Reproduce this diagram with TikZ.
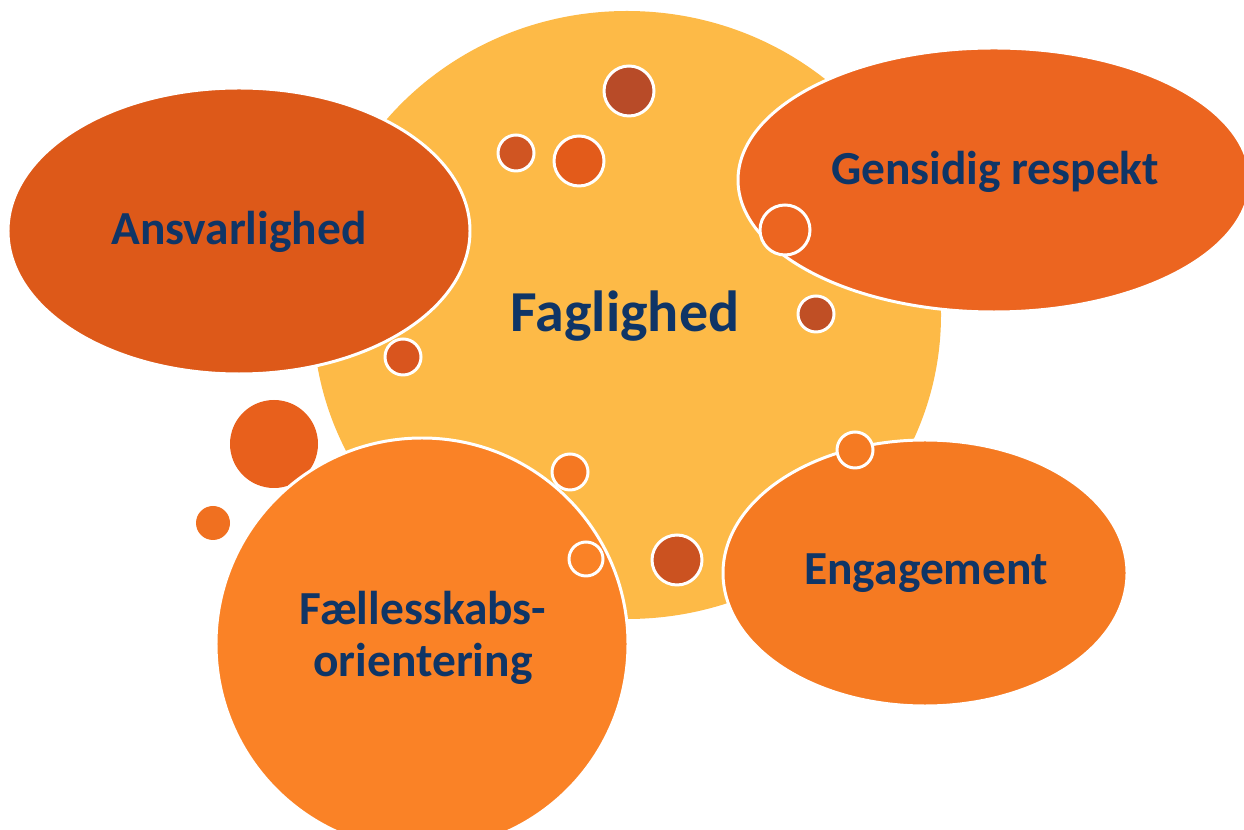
\documentclass[tikz,border=0pt]{standalone}
\usepackage{fontspec}
\setmainfont{Carlito}
\usetikzlibrary{shapes.geometric}
\definecolor{yel}{HTML}{FDBA47}
\definecolor{ansv}{HTML}{DD5919}
\definecolor{gens}{HTML}{EC6520}
\definecolor{enga}{HTML}{F57A22}
\definecolor{fael}{HTML}{FA8226}
\definecolor{navy}{HTML}{0F3566}
\tikzset{
  wb/.style={draw=white, line width=1.7pt},
  lbl/.style={font=\bfseries\fontsize{27}{30}\selectfont, text=navy, align=center},
  dot/.style={circle, wb, inner sep=0pt},
}
\begin{document}
\begin{tikzpicture}[x=0.02cm,y=-0.02cm]
\useasboundingbox (0,0) rectangle (1244,830);
\clip (0,0) rectangle (1244,830);
% central circle
\node[ellipse, fill=yel, minimum width=628*0.02cm, minimum height=608*0.02cm, inner sep=0pt] (fag) at (627,315) {};
\node[lbl, font=\bfseries\fontsize{33}{36}\selectfont] (fagt) at (625,316) {Faglighed};
% ellipses
\node[ellipse, fill=ansv, wb, minimum width=462*0.02cm, minimum height=286*0.02cm, inner sep=0pt] (ans) at (239,231) {};
\node[lbl] at (239,232) {Ansvarlighed};
\node[ellipse, fill=gens, wb, minimum width=512*0.02cm, minimum height=264*0.02cm, inner sep=0pt] (gen) at (994,180) {};
\node[lbl] at (995,172) {Gensidig respekt};
% small circles on yellow
\node[dot, fill={rgb,255:red,184;green,75;blue,40}, minimum size=50*0.02cm] (c1) at (629,91) {};
\node[dot, fill={rgb,255:red,208;green,85;blue,34}, minimum size=36*0.02cm] (c2) at (516,153) {};
\node[dot, fill={rgb,255:red,227;green,91;blue,26}, minimum size=50*0.02cm] (c3) at (579,161) {};
\node[dot, fill=gens, minimum size=50*0.02cm] (c4) at (785,230) {};
\node[dot, fill={rgb,255:red,192;green,79;blue,37}, minimum size=36*0.02cm] (c5) at (816,314) {};
\node[dot, fill={rgb,255:red,217;green,85;blue,30}, minimum size=36*0.02cm] (c6) at (403,357) {};
\node[dot, fill={rgb,255:red,203;green,82;blue,32}, minimum size=50*0.02cm] (c7) at (677,560) {};
% outside circles
\node[circle, fill={rgb,255:red,232;green,96;blue,28}, minimum size=88*0.02cm, inner sep=0pt] (c8) at (274,444) {};
\node[circle, fill={rgb,255:red,240;green,112;blue,32}, minimum size=34*0.02cm, inner sep=0pt] (c9) at (213,523) {};
% engagement
\node[ellipse, fill=enga, wb, minimum width=404*0.02cm, minimum height=266*0.02cm, inner sep=0pt] (eng) at (925,573) {};
\node[lbl] at (926,573) {Engagement};
\node[dot, fill=enga, minimum size=36*0.02cm] (c10) at (855,450) {};
% faellesskab
\node[circle, fill=fael, wb, minimum size=412*0.02cm, inner sep=0pt] (fae) at (422,644) {};
\node[lbl] at (423,638) {Fællesskabs-\\orientering};
\node[dot, fill={rgb,255:red,245;green,120;blue,34}, minimum size=36*0.02cm] (c11) at (570,472) {};
\node[dot, fill=fael, minimum size=34*0.02cm] (c12) at (586,559) {};
\end{tikzpicture}
\end{document}
